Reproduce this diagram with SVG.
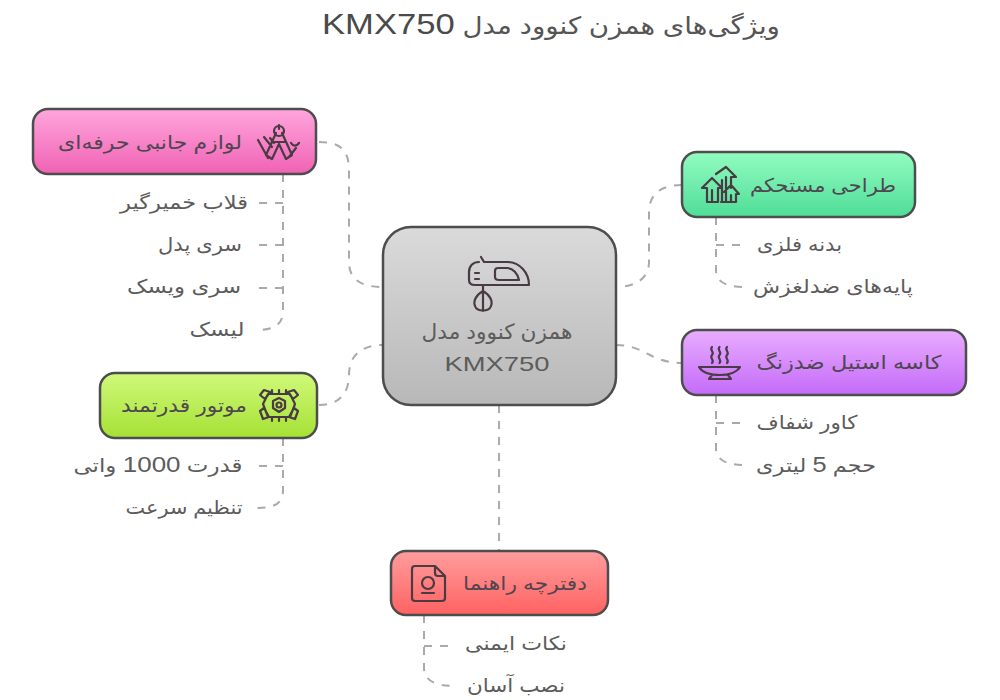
<svg xmlns="http://www.w3.org/2000/svg" width="1000" height="700" viewBox="0 0 1000 700">
<style>
text{font-family:"Liberation Sans","DejaVu Sans",sans-serif;direction:rtl;text-anchor:middle;fill:#5c5c5c}
.t{font-size:19px}.l{fill:#4f4650}
.title{font-size:24px;fill:#555}
.title tspan{font-size:30px;fill:#4a4a4a}
.d{font-size:21.500px}
.c{fill:none;stroke:#aaa;stroke-width:2;stroke-dasharray:8 8}
.n{stroke:#4d4d4d;stroke-width:2.500}
.i{fill:none;stroke:#4a3a44;stroke-width:2.200;stroke-linejoin:round;stroke-linecap:round}
</style>
<defs>
<linearGradient id="gg" x1="0" y1="0" x2="0" y2="1"><stop offset="0" stop-color="#dadada"/><stop offset="1" stop-color="#b8b8b8"/></linearGradient>
<linearGradient id="gp" x1="0" y1="0" x2="0" y2="1"><stop offset="0" stop-color="#ffa6dc"/><stop offset="1" stop-color="#f062b4"/></linearGradient>
<linearGradient id="ge" x1="0" y1="0" x2="0" y2="1"><stop offset="0" stop-color="#92fcc0"/><stop offset="1" stop-color="#4fdd98"/></linearGradient>
<linearGradient id="gv" x1="0" y1="0" x2="0" y2="1"><stop offset="0" stop-color="#e8adff"/><stop offset="1" stop-color="#c46bf8"/></linearGradient>
<linearGradient id="gl" x1="0" y1="0" x2="0" y2="1"><stop offset="0" stop-color="#d0f97a"/><stop offset="1" stop-color="#a5e135"/></linearGradient>
<linearGradient id="gr" x1="0" y1="0" x2="0" y2="1"><stop offset="0" stop-color="#ff9d9d"/><stop offset="1" stop-color="#ff6262"/></linearGradient>
</defs>
<rect width="1000" height="700" fill="#fff"/>
<text class="title" x="551" y="34" textLength="458" lengthAdjust="spacingAndGlyphs">ویژگی‌های همزن کنوود مدل <tspan>KMX750</tspan></text>
<g id="connectors">
<path class="c" d="M319,142 C340,142 349,150 349,170 V262 C349,280 362,287 383,287"/>
<path class="c" d="M319,405 C340,405 349,392 349,375 C349,355 362,345 383,345"/>
<path class="c" d="M682,185 C660,185 649,195 649,212 V262 C649,278 636,287 616,287"/>
<path class="c" d="M616,345 C645,345 650,363 682,363"/>
<path class="c" d="M499,405 V551"/>
<path class="c" d="M283,174 V310 C283,324 276,330 255,330"/>
<path class="c" d="M283,203 H258 M283,245 H258 M283,288 H258"/>
<path class="c" d="M716,217 V270 C716,282 726,287 745,287"/>
<path class="c" d="M716,245 H745"/>
<path class="c" d="M716,395 V448 C716,460 726,465 745,465"/>
<path class="c" d="M716,423 H745"/>
<path class="c" d="M283,438 V490 C283,503 276,508 255,508"/>
<path class="c" d="M283,466 H258"/>
<path class="c" d="M424,615 V668 C424,680 434,686 455,686"/>
<path class="c" d="M424,646 H455"/>
</g>
<g id="center">
<rect class="n" x="383" y="227" width="233" height="178" rx="28" fill="url(#gg)"/>
<path class="i" d="M481,257 L484,262 H507 C520,262 529,273 529,285 H475 C471,285 469,283 469,280 V272 C469,266 473,262 479,262 M498,268 H507 C513,268 518,274 519,280 H499 C496,280 495,279 495,277 V271 C495,269 496,268 498,268 M475,273 H479 M475,279 H479 M483,285 V311 M483,291 C476,295 473,301 475,306 C477,312 489,312 491,306 C493,301 490,295 483,291"/>
<text class="t" style="font-size:21px" x="497" y="339" textLength="151" lengthAdjust="spacingAndGlyphs">همزن کنوود مدل</text>
<text class="t" style="font-size:21px" x="497" y="371" textLength="105" lengthAdjust="spacingAndGlyphs">KMX750</text>
</g>
<g id="accessories">
<rect class="n" x="33" y="109" width="283" height="65" rx="15" fill="url(#gp)"/>
<path class="i" d="M276,133 L266,155 L272,159 L279,144 L286,159 L292,155 L282,133 M279,125 V129 M273,142 H285 M258,140 L268,158 M264,137 L272,147 M270,138 L274,143 M299,143 C296,147 293,146 291,143 M296,148 L289,157"/>
<circle class="i" cx="279" cy="131" r="5"/>
<text class="t l" x="150" y="149" textLength="184" lengthAdjust="spacingAndGlyphs">لوازم جانبی حرفه‌ای</text>
<text class="t" x="184" y="209" textLength="128" lengthAdjust="spacingAndGlyphs">قلاب خمیرگیر</text>
<text class="t" x="200" y="251" textLength="84" lengthAdjust="spacingAndGlyphs">سری پدل</text>
<text class="t" x="184" y="293" textLength="114" lengthAdjust="spacingAndGlyphs">سری ویسک</text>
<text class="t" x="217" y="336" textLength="55" lengthAdjust="spacingAndGlyphs">لیسک</text>
</g>
<g id="design">
<rect class="n" x="682" y="152" width="233" height="65" rx="15" fill="url(#ge)"/>
<path class="i" d="M702,188 L712,178 L722,188 H718 V202 H707 V188 Z M712,202 V190 M716,174 L726,167 L736,177 H731 V188 M722,180 V202 M726,177 V202 M721,202 H736 V194 H739 L731,185 L724,192 M731,195 V202"/>
<text class="t l" x="823" y="192" textLength="146" lengthAdjust="spacingAndGlyphs">طراحی مستحکم</text>
<text class="t" x="799.500" y="251" textLength="85" lengthAdjust="spacingAndGlyphs">بدنه فلزی</text>
<text class="t" x="833" y="293" textLength="160" lengthAdjust="spacingAndGlyphs">پایه‌های ضدلغزش</text>
</g>
<g id="bowl">
<rect class="n" x="682" y="330" width="284" height="65" rx="15" fill="url(#gv)"/>
<path class="i" d="M699,367 H740 C737,372 729,375 720,375 C710,375 702,372 699,367 Z M712,375 L709,379 H731 L728,375 M712,347 C709,350 715,352 712,355 C709,358 715,360 712,363 M719.500,347 C716.500,350 722.500,352 719.500,355 C716.500,358 722.500,360 719.500,363 M727,347 C724,350 730,352 727,355 C724,358 730,360 727,363"/>
<text class="t l" x="849" y="369" textLength="185" lengthAdjust="spacingAndGlyphs">کاسه استیل ضدزنگ</text>
<text class="t" x="807" y="429" textLength="101" lengthAdjust="spacingAndGlyphs">کاور شفاف</text>
<text class="t" x="816" y="472" textLength="120" lengthAdjust="spacingAndGlyphs">حجم <tspan class="d">5</tspan> لیتری</text>
</g>
<g id="motor">
<rect class="n" x="100" y="373" width="217" height="65" rx="15" fill="url(#gl)"/>
<path class="i" d="M268,394 H290 L295,404 L290,417 H268 L263,404 Z M260,395 L264,390 L270,392 L265,399 Z M298,395 L294,390 L288,392 L293,399 Z M260,411 L263,419 L269,417 L264,408 Z M298,411 L295,419 L289,417 L294,408 Z M272,390 V393 M279,390 V393 M286,390 V393 M272,418 V421 M279,418 V421 M286,418 V421"/>
<path class="i" d="M279,398 L285,401 V408 L279,412 L273,408 V401 Z"/>
<circle class="i" cx="279" cy="405" r="2.500"/>
<text class="t l" x="184" y="412" textLength="126" lengthAdjust="spacingAndGlyphs">موتور قدرتمند</text>
<text class="t" x="158" y="472" textLength="169" lengthAdjust="spacingAndGlyphs">قدرت <tspan class="d">1000</tspan> واتی</text>
<text class="t" x="184" y="514" textLength="117" lengthAdjust="spacingAndGlyphs">تنظیم سرعت</text>
</g>
<g id="manual">
<rect class="n" x="391" y="551" width="217" height="64" rx="15" fill="url(#gr)"/>
<path class="i" d="M415,566 H435 L445,576 V598 C445,600 444,601 442,601 H415 C413,601 412,600 412,598 V569 C412,567 413,566 415,566 Z M435,566 V573 C435,575 436,576 438,576 H445"/>
<circle class="i" cx="428" cy="583" r="6"/>
<path class="i" d="M422,593 H434"/>
<text class="t l" x="525" y="590" textLength="124" lengthAdjust="spacingAndGlyphs">دفترچه راهنما</text>
<text class="t" x="516" y="650" textLength="102" lengthAdjust="spacingAndGlyphs">نکات ایمنی</text>
<text class="t" x="516" y="692" textLength="98" lengthAdjust="spacingAndGlyphs">نصب آسان</text>
</g>
</svg>
